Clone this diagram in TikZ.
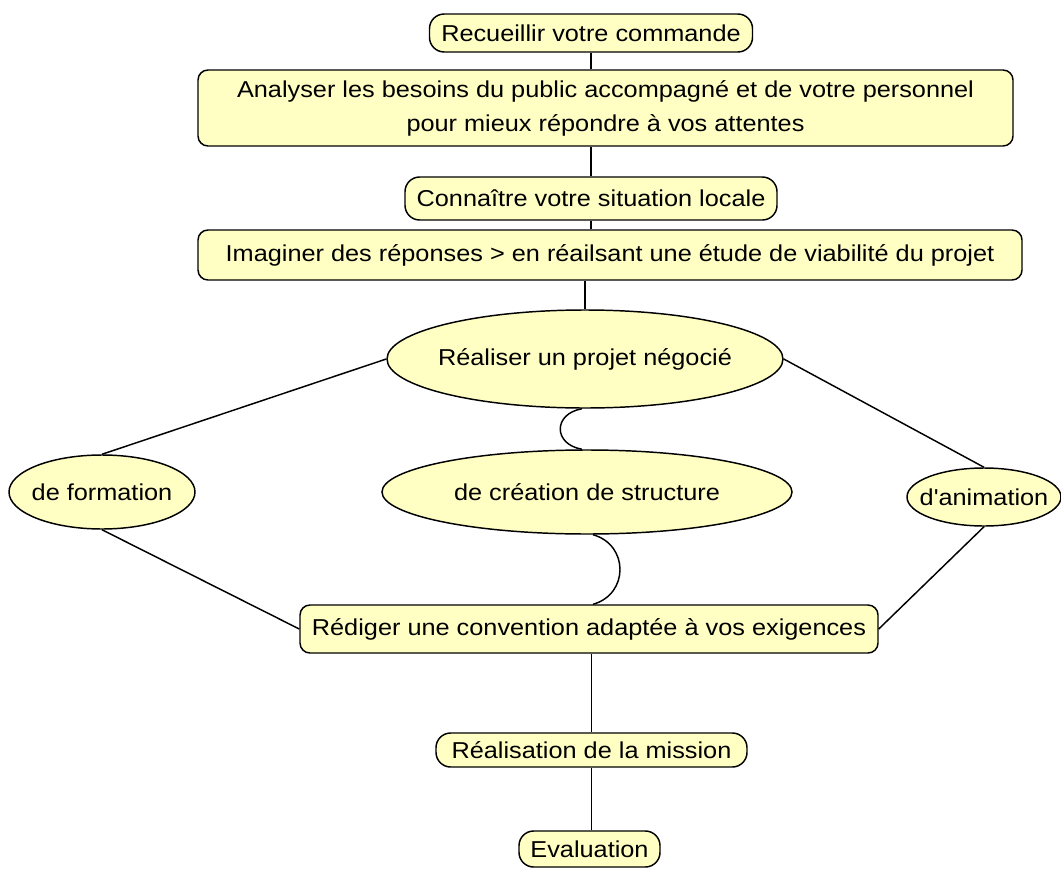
\documentclass[tikz,border=0pt]{standalone}
\usepackage{fontspec}
\setmainfont{Liberation Sans}[FakeStretch=1.1, Ligatures=TeXOff]
\usetikzlibrary{shapes.geometric,calc}
\definecolor{paleyellow}{RGB}{255,255,196}
\begin{document}
\begin{tikzpicture}[x=0.75pt,y=-0.75pt,
  font=\fontsize{17.25}{25.5}\selectfont,
  box/.style={draw, fill=paleyellow, line width=1.1pt, rounded corners=7.5pt, inner sep=0pt},
  pill/.style={box, rounded corners=11pt},
  ell/.style={draw, fill=paleyellow, line width=1.1pt, ellipse, inner sep=0pt},
  link/.style={line width=1.1pt}]
\useasboundingbox[fill=white] (0,0) rectangle (1061,871);

% boxes
\node[pill, minimum width=242.25pt, minimum height=28.5pt] (rec) at (591,33)
  {\makebox[0pt]{Recueillir votre commande}};
\node[box, minimum width=611.25pt, minimum height=57pt, align=center] (ana) at (605.5,108)
  {\makebox[0pt]{Analyser les besoins du public accompagné et de votre personnel}\\
   \makebox[0pt]{pour mieux répondre à vos attentes}};
\node[pill, minimum width=279pt, minimum height=32.25pt] (con) at (591,198.5)
  {\makebox[0pt]{Connaître votre situation locale}};
\node[box, minimum width=618pt, minimum height=37.5pt] (ima) at (610,255)
  {\makebox[0pt]{Imaginer des réponses > en réailsant une étude de viabilité du projet}};

% ellipses
\node[ell, minimum width=297pt, minimum height=73.5pt] (neg) at (585,359)
  {\makebox[0pt]{Réaliser un projet négocié}};
\node[ell, minimum width=139.5pt, minimum height=55.5pt] (form) at (102,492)
  {\makebox[0pt]{de formation}};
\node[ell, minimum width=307.5pt, minimum height=63pt] (struct) at (587,492)
  {\makebox[0pt]{de création de structure}};
\node[ell, minimum width=115.5pt, minimum height=43.5pt] (anim) at (984,497)
  {\makebox[0pt]{d'animation}};

% lower boxes
\node[box, minimum width=433.5pt, minimum height=36pt] (red) at (589,629)
  {\makebox[0pt]{Rédiger une convention adaptée à vos exigences}};
\node[pill, minimum width=233.25pt, minimum height=25.5pt] (real) at (591.5,750)
  {\makebox[0pt]{Réalisation de la mission}};
\node[pill, minimum width=105.75pt, minimum height=27pt] (eval) at (589.5,849)
  {\makebox[0pt]{Evaluation}};

% connectors
\draw[link] (rec.south) -- (rec.south |- ana.north);
\draw[link] (con.north) -- (con.north |- ana.south);
\draw[link] (con.south) -- (con.south |- ima.north);
\draw[link] (neg.north) -- (neg.north |- ima.south);
\draw[link] (neg.west) -- (form.north);
\draw[link] (neg.east) -- (anim.north);
\draw[link] ($(neg.south)+(-3,0)$) .. controls +(-29,5) and +(-29,-5) .. ($(struct.north)+(-5,0)$);
\draw[link] ($(struct.south)+(6,0)$) .. controls +(36,10) and +(36,-10) .. ($(red.north)+(4,0)$);
\draw[link] (form.south) -- (red.west);
\draw[link] (anim.south) -- (red.east);
\draw[link] (real.north |- red.south) -- (real.north);
\draw[link] (real.south) -- (real.south |- eval.north);
\end{tikzpicture}
\end{document}
